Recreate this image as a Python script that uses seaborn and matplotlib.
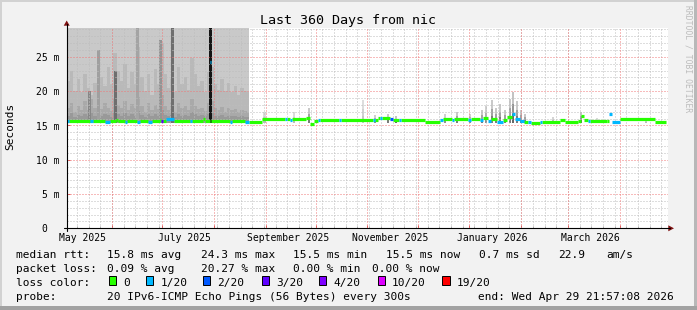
import numpy as np
import pandas as pd
import matplotlib
matplotlib.use("Agg")
import matplotlib.pyplot as plt
from matplotlib.patches import Rectangle, Polygon
from matplotlib.lines import Line2D
import seaborn as sns

# ---------------- data ----------------
END = pd.Timestamp("2026-04-29 21:57:08")
SPAN_DAYS = 360
START = END - pd.Timedelta(days=SPAN_DAYS)
Y_MAX = 29.2  # ms, top of chart

# median rtt (ms), piecewise constant from each day offset to the next
med_day = [0, 1.2, 13.8, 15.6, 22.8, 25.8, 29.4, 30.5, 34.7, 35.9, 41.9, 43.7, 48.5, 50.9,
           55.7, 56.7, 57.5, 59.7, 64.1, 73.7, 74.9, 81.5, 82.7, 85.7, 86.6, 97.6, 98.8,
           106.6, 109.0, 116.8, 130.6, 131.8, 133.6, 134.8, 143.2, 145.6, 148.0, 150.4,
           151.6, 163.0, 164.1, 183.3, 184.5, 186.3, 187.5, 188.7, 193.5, 195.3, 198.9,
           200.1, 214.4, 223.4, 225.2, 230.4, 231.8, 240.2, 242.0, 247.4, 249.2, 252.2,
           254.0, 257.6, 261.2, 263.6, 266.6, 268.4, 271.4, 273.8, 276.1, 277.9, 283.3,
           284.5, 295.3, 298.3, 306.1, 307.9, 309.7, 312.1, 313.3, 323.5, 324.7, 326.5,
           331.3, 352.3, 358.9]
med_ms = [15.7, 15.6, 15.6, 15.65, 15.55, 15.6, 15.85, 15.6, 15.55, 15.6, 15.55, 15.65, 15.55, 15.6,
          15.8, 15.6, 15.65, 15.9, 15.6, 15.6, 15.6, 16.0, 15.6, 24.3, 15.6, 15.55, 15.6,
          15.55, 15.5, 15.9, 15.9, 15.9, 15.85, 15.9, 16.1, 15.15, 15.6, 15.8,
          15.8, 15.8, 15.8, 15.8, 15.8, 16.1, 16.1, 16.15, 15.95, 15.75, 15.75,
          15.75, 15.5, 15.8, 15.95, 15.8, 15.9, 15.75, 16.0, 15.8, 16.1, 15.7,
          16.0, 15.55, 15.8, 16.2, 16.6, 16.0, 15.6, 15.45, 15.5, 15.4, 15.5,
          15.55, 15.8, 15.55, 15.6, 16.4, 15.8, 15.6, 15.7, 15.6, 16.6, 15.5,
          15.9, 15.55, 15.55]
med_loss = [1, 0, 1, 0, 1, 0, 0, 0, 1, 0, 1, 0, 1, 0,
            0, 3, 0, 1, 0, 1, 0, 0, 0, 1, 0, 1, 0,
            1, 0, 0, 1, 0, 1, 0, 0, 0, 0, 1,
            0, 1, 0, 1, 0, 0, 1, 0, 2, 0, 1,
            0, 0, 1, 0, 1, 0, 1, 0, 1, 0, 1,
            0, 1, 0, 0, 1, 1, 1, 0, 1, 0, 1,
            0, 0, 0, 0, 0, 0, 1, 0, 0, 1, 1,
            0, 0, 0]

# smoke during the first period (highest pings clipped at the chart top)
smoke_end_day = 109.0
smoke_day = list(range(0, 109, 2))
smoke_hi = [21.5, 23.0, 20.0, 21.8, 19.8, 22.5, 20.5, 19.5, 21.2, 24.5, 22.0, 20.8, 23.5, 21.0,
            25.5, 23.0, 21.5, 24.0, 20.5, 22.8, 21.0, 26.5, 22.0, 20.0, 22.5, 19.5, 23.2, 21.0,
            27.0, 22.5, 20.5, 21.8, 19.8, 23.5, 21.0, 22.0, 20.2, 24.8, 22.5, 20.8, 21.5, 19.8,
            22.8, 23.5, 21.0, 20.2, 21.8, 20.0, 21.2, 19.8, 20.8, 19.5, 20.5, 20.0, 19.8]
smoke_mid = [17.6, 18.2, 17.0, 17.8, 17.3, 18.5, 17.2, 18.8, 17.5, 18.0, 17.4, 18.3, 17.6, 17.1,
             19.0, 18.0, 17.5, 18.6, 17.2, 18.1, 17.5, 19.2, 17.8, 17.0, 18.2, 17.3, 18.0, 17.4,
             19.5, 17.8, 17.2, 18.4, 17.0, 18.2, 17.5, 17.8, 17.2, 18.8, 17.9, 17.4, 17.6, 17.1,
             18.3, 18.6, 17.5, 17.2, 17.7, 17.0, 17.6, 17.2, 17.4, 17.0, 17.3, 17.1, 17.0]
smoke_low = [16.4, 16.8, 16.2, 16.5, 16.3, 16.7, 16.3, 16.9, 16.4, 16.6, 16.3, 16.7, 16.5, 16.2,
             17.0, 16.6, 16.4, 16.8, 16.3, 16.6, 16.4, 17.1, 16.5, 16.2, 16.6, 16.3, 16.7, 16.4,
             17.2, 16.5, 16.3, 16.8, 16.2, 16.6, 16.4, 16.5, 16.3, 16.9, 16.6, 16.4, 16.5, 16.3,
             16.7, 16.8, 16.4, 16.3, 16.5, 16.2, 16.4, 16.3, 16.4, 16.2, 16.3, 16.2, 16.2]

# dense smoke columns in the first period
dark_day = [13.8, 18.8, 29.4, 42.2, 56.3, 63.2, 86.0]
dark_top = [20.0, 26.0, 23.0, 29.2, 27.5, 29.2, 29.2]
dark_density = [0.3, 0.15, 0.45, 0.12, 0.22, 0.45, 1.0]

# smoke spikes in the later period
spike_day = [118.6, 136.0, 145.0, 177.3, 184.5, 192.3, 197.1, 226.4, 233.6, 241.4, 248.6,
             251.0, 254.6, 257.0, 259.4, 262.4, 265.4, 267.2, 269.6, 272.0, 274.4, 291.1,
             307.9, 317.5, 346.8]
spike_top = [16.9, 16.9, 17.5, 18.7, 16.5, 16.6, 16.3, 16.6, 17.0, 16.7, 17.2,
             17.8, 18.7, 17.6, 18.1, 17.3, 18.9, 19.9, 18.6, 17.2, 16.7, 16.2,
             17.0, 16.1, 16.0]
spike_density = [0.2, 0.2, 0.5, 0.15, 0.4, 0.5, 0.6, 0.4, 0.5, 0.4, 0.5,
                 0.4, 0.5, 0.5, 0.5, 0.5, 0.5, 0.6, 0.5, 0.5, 0.5, 0.3,
                 0.6, 0.2, 0.2]

loss_levels = [0, 1, 2, 3, 4, 10, 19]
loss_labels = ["0", "1/20", "2/20", "3/20", "4/20", "10/20", "19/20"]
loss_colors = ["#26ff00", "#00b8ff", "#0059ff", "#5e00ff", "#7e00ff", "#dd00ff", "#ff0000"]

x_label_months = ["2025-05-01", "2025-07-01", "2025-09-01", "2025-11-01", "2026-01-01", "2026-03-01"]
x_label_text = ["May 2025", "July 2025", "September 2025", "November 2025", "January 2026", "March 2026"]
y_ticks = [0, 5, 10, 15, 20, 25]
y_tick_text = ["0", "5 m", "10 m", "15 m", "20 m", "25 m"]

title = "Last 360 Days from nic"
y_title = "Seconds"
stats_rtt = ["median rtt:", "15.8 ms avg", "24.3 ms max", "15.5 ms min", "15.5 ms now", "0.7 ms sd", "22.9", "am/s"]
stats_loss = ["packet loss:", "0.09 % avg", "20.27 % max", "0.00 % min", "0.00 % now"]
probe_text = ["probe:", "20 IPv6-ICMP Echo Pings (56 Bytes) every 300s", "end: Wed Apr 29 21:57:08 2026"]
watermark = "RRDTOOL / TOBI OETIKER"

# ---------------- drawing ----------------
sns.set_theme(style="white")
plt.rcParams["font.family"] = ["DejaVu Sans Mono"]

W, H = 697, 310
L, R, T, B = 66.7, 668.0, 28.0, 228.3
BG = "#f2f2f2"

fig = plt.figure(figsize=(W / 100, H / 100), dpi=100, facecolor=BG)
ax = fig.add_axes([L / W, 1 - B / H, (R - L) / W, (B - T) / H])
ax.set_facecolor("white")
for s in ax.spines.values():
    s.set_visible(False)
ax.set_xlim(0, SPAN_DAYS)
ax.set_ylim(0, Y_MAX)


def day_of(ts):
    return (pd.Timestamp(ts) - START) / pd.Timedelta(days=1)


def gray(density, lo=0.86, hi=0.12):
    density = min(1.0, max(0.0, density))
    v = lo - (lo - hi) * density
    return (v, v, v)


BASE = 15.35
sd = np.array(smoke_day + [smoke_end_day], float)


def ext(a):
    return np.array(list(a) + [a[-1]], float)


ax.fill_between([0, smoke_end_day], BASE, Y_MAX + 1, color="#c9c9c9", lw=0, zorder=1)
ax.fill_between(sd, BASE, ext(smoke_hi), step="post", color="#b9b9b9", lw=0, zorder=1.1)
ax.fill_between(sd, BASE, ext(smoke_mid), step="post", color="#a9a9a9", lw=0, zorder=1.2)
ax.fill_between(sd, BASE, ext(smoke_low), step="post", color="#999999", lw=0, zorder=1.3)
ax.bar(dark_day, np.array(dark_top) - BASE, bottom=BASE, width=1.7,
       color=[gray(d, 0.72, 0.08) for d in dark_density], lw=0, zorder=1.4)

# later smoke spikes (gradient: darker near the median)
sp_top = np.array(spike_top)
for frac, fac in ((1.0, 0.3), (0.6, 0.7), (0.3, 1.1)):
    cols = [gray(d * fac, 0.9, 0.15) for d in spike_density]
    ax.bar(spike_day, (sp_top - BASE) * frac, bottom=BASE, width=1.6, color=cols, lw=0, zorder=1.4)

# grid (dotted, drawn over the smoke as rrdtool does)
gkw = dict(lw=0.72, ls=(0, (1, 2)))
for v in range(1, int(Y_MAX) + 1):
    if v % 5:
        ax.axhline(v, color="#bdbdbd", zorder=1.6, **gkw)
for v in range(5, int(Y_MAX) + 1, 5):
    ax.axhline(v, color="#f07878", zorder=1.7, **gkw)
sundays = pd.date_range("2025-05-11", END, freq="7D")
months = pd.date_range("2025-06-01", END, freq="MS")
for d in sundays:
    ax.axvline(day_of(d), color="#bdbdbd", zorder=1.6, **gkw)
for d in months:
    ax.axvline(day_of(d), color="#f07878", zorder=1.7, **gkw)

ax.set_xticks([day_of(d) for d in months])
ax.set_xticks([day_of(d) for d in sundays], minor=True)
ax.set_xticklabels([])
ax.set_yticks(y_ticks)
ax.set_yticklabels([])
ax.tick_params(axis="x", which="major", direction="in", length=2.0, width=0.72, color="#e06060", bottom=True)
ax.tick_params(axis="x", which="minor", direction="in", length=1.5, width=0.72, color="#a0a0a0", bottom=True)
ax.tick_params(axis="y", which="major", direction="in", length=2.0, width=0.72, color="#e06060", left=True)


# median line, coloured by packet loss (one horizontal segment per interval)
def loss_label(n):
    idx = max(i for i, lv in enumerate(loss_levels) if lv <= n)
    return loss_labels[idx]


rows = []
for i in range(len(med_day) - 1):
    for d in (med_day[i], med_day[i + 1]):
        rows.append({"day": d, "ms": med_ms[i], "seg": i, "loss": loss_label(med_loss[i])})
df = pd.DataFrame(rows)
sns.lineplot(data=df, x="day", y="ms", hue="loss", units="seg", estimator=None, sort=False,
             palette=dict(zip(loss_labels, loss_colors)), hue_order=loss_labels,
             legend=False, lw=2.3, solid_capstyle="butt", ax=ax, zorder=3)
ax.set_xlabel("")
ax.set_ylabel("")

# tick labels
for v, s in zip(y_ticks, y_tick_text):
    off_px = 7.2 if s.endswith("m") else 19.0
    ax.annotate(s, xy=(0, v), xycoords=ax.get_yaxis_transform(), xytext=(-off_px * 0.72, -4.2 * 0.72),
                textcoords="offset points", ha="right", va="baseline", fontsize=7, color="black")
for m, s in zip(x_label_months, x_label_text):
    ax.annotate(s, xy=(day_of(m) + 13.5, 0), xycoords=ax.get_xaxis_transform(),
                xytext=(0, -12.7 * 0.72), textcoords="offset points", ha="center", va="baseline",
                fontsize=7, color="black", annotation_clip=False)


def P(x, y):
    return (x / W, 1 - y / H)


# axes lines and arrows
fig.add_artist(Line2D([P(64, 0)[0], P(670, 0)[0]], [P(0, B)[1]] * 2, color="black", lw=0.8))
fig.add_artist(Line2D([P(L, 0)[0]] * 2, [P(0, 231)[1], P(0, 24)[1]], color="black", lw=0.8))
fig.add_artist(Polygon([P(668.3, 225.3), P(668.3, 231.3), P(674, B)], closed=True, color="#7f1010", lw=0))
fig.add_artist(Polygon([P(63.7, 25.7), P(69.7, 25.7), P(L, 20.5)], closed=True, color="#7f1010", lw=0))


def text(x, y, s, **kw):
    kw.setdefault("fontsize", 8)
    kw.setdefault("va", "baseline")
    fig.text(x / W, 1 - y / H, s, color=kw.pop("color", "black"), **kw)


text(348, 24, title, fontsize=9.6, ha="center")
text(10.5, 126, y_title, rotation=90, ha="center", va="center")
text(688, 5, watermark, rotation=270, ha="center", va="top", fontsize=5.8, color="#bcbcbc")

row1_x = [16, 107, 200.7, 293, 386, 479.3, 558.3, 606.7]
for x, s in zip(row1_x, stats_rtt):
    text(x, 258, s)
row2_x = [16, 107.3, 200.7, 293.3, 372.3]
for x, s in zip(row2_x, stats_loss):
    text(x, 272, s)
text(16, 285.7, "loss color:")
box_x = [108.7, 146, 203, 262, 319, 377.7, 442.3]
for bx, lab, col in zip(box_x, loss_labels, loss_colors):
    fig.add_artist(Rectangle(P(bx, 285.3), 7.3 / W, 9.5 / H, facecolor=col, edgecolor="black", lw=0.7))
    text(bx + 14.3, 285.7, lab)
row4_x = [16, 107.3, 478]
for x, s in zip(row4_x, probe_text):
    text(x, 299.7, s)

# frame shading
fig.add_artist(Rectangle((0, 1 - 2 / H), 1, 2 / H, facecolor="#d2d2d2", lw=0))
fig.add_artist(Rectangle((0, 0), 2 / W, 1, facecolor="#d2d2d2", lw=0))
fig.add_artist(Rectangle((1 - 3 / W, 0), 3 / W, 1, facecolor="#b8b8b8", lw=0))
fig.add_artist(Rectangle((0, 0), 1, 4 / H, facecolor="#a2a2a2", lw=0))

fig.savefig("out.png", dpi=100, facecolor=BG)
